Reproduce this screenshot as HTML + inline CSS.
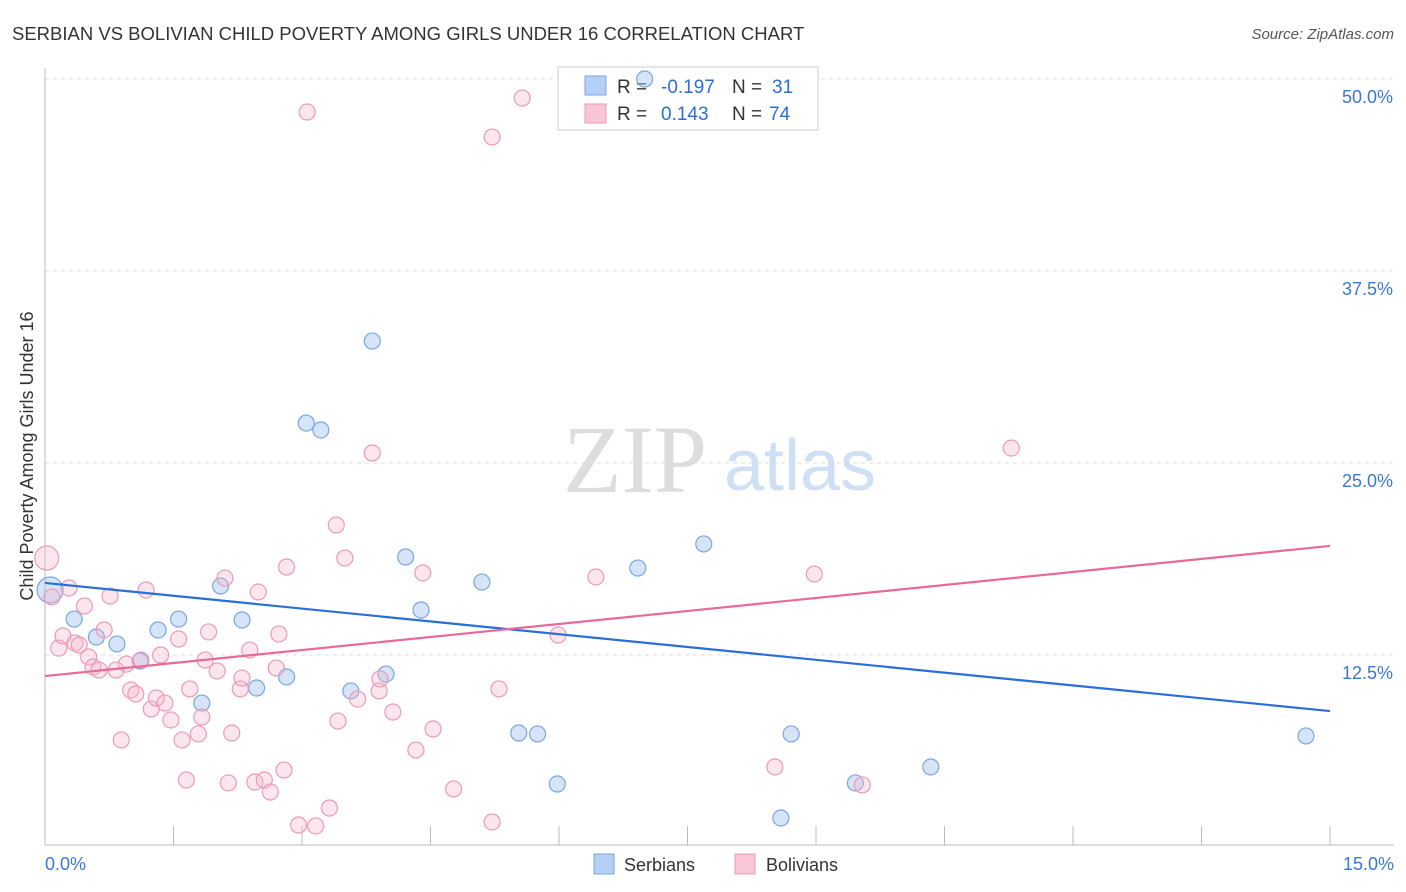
<!DOCTYPE html>
<html><head><meta charset="utf-8"><style>
body{margin:0;background:#fff;font-family:"Liberation Sans",sans-serif;}
svg{display:block}
</style></head><body>
<svg id="c" width="1406" height="892">
<text x="12" y="40" font-size="18.5" fill="#333">SERBIAN VS BOLIVIAN CHILD POVERTY AMONG GIRLS UNDER 16 CORRELATION CHART</text>
<text x="1394" y="39" font-size="15" fill="#555" text-anchor="end" font-style="italic">Source: ZipAtlas.com</text>
<text x="635" y="492" font-size="96" fill="#ddd" font-family="Liberation Serif,serif" text-anchor="middle">ZIP</text>
<text x="800" y="490" font-size="72" fill="#cfe0f5" text-anchor="middle">atlas</text>
<text transform="translate(33,456) rotate(-90)" font-size="18" fill="#333" text-anchor="middle">Child Poverty Among Girls Under 16</text>
<g id="grid"></g>
<g>
<rect x="558" y="67" width="260" height="63" fill="#fff" stroke="#ccc"/>
<rect x="585" y="76" width="21" height="19" fill="#b5d0f5" stroke="#7aa6e0"/>
<rect x="585" y="104" width="21" height="19" fill="#f8c6d6" stroke="#ec9ab5"/>
<text x="617" y="93" font-size="19" fill="#333">R =</text>
<text x="661" y="93" font-size="19" fill="#2a6fd6">-0.197</text>
<text x="732" y="93" font-size="19" fill="#333">N =</text>
<text x="772" y="93" font-size="19" fill="#2a6fd6">31</text>
<text x="617" y="120" font-size="19" fill="#333">R =</text>
<text x="661" y="120" font-size="19" fill="#2a6fd6">0.143</text>
<text x="732" y="120" font-size="19" fill="#333">N =</text>
<text x="769" y="120" font-size="19" fill="#2a6fd6">74</text>
</g>
<g id="marks"></g>
<g>
<rect x="594" y="854" width="20" height="20" fill="#b5d0f5" stroke="#7aa6e0"/>
<text x="624" y="871" font-size="18" fill="#333">Serbians</text>
<rect x="735" y="854" width="20" height="20" fill="#f8c6d6" stroke="#ec9ab5"/>
<text x="766" y="871" font-size="18" fill="#333">Bolivians</text>
</g>
</svg>
<script>
const yTicks=[12.5,25,37.5,50];
const xTickLabels=["0.0%","15.0%"];
const serbX=[.06,.34,.60,.84,1.11,1.32,1.56,1.83,2.05,2.30,2.47,2.82,3.05,3.22,3.57,3.82,3.98,4.21,4.39,5.10,5.53,5.75,5.98,6.92,7.00,7.69,8.59,8.71,9.46,10.34,14.72];
const serbY=[16.73,14.84,13.67,13.22,12.11,14.13,14.84,9.37,16.99,14.78,10.35,11.07,27.60,27.15,10.16,32.94,11.26,18.88,15.43,17.25,7.42,7.36,4.10,18.16,50.0,19.73,1.89,7.36,4.17,5.21,7.23];
const bolX=[.02,.08,.16,.21,.28,.35,.40,.46,.51,.56,.63,.69,.76,.83,.89,.95,1.00,1.06,1.12,1.18,1.24,1.30,1.35,1.40,1.47,1.56,1.60,1.65,1.69,1.79,1.83,1.87,1.91,2.01,2.10,2.14,2.18,2.28,2.30,2.39,2.45,2.49,2.56,2.63,2.70,2.73,2.79,2.82,2.96,3.06,3.16,3.32,3.40,3.42,3.50,3.65,3.82,3.90,3.91,4.06,4.33,4.41,4.53,4.77,5.22,5.22,5.30,5.57,5.99,6.43,8.52,8.98,9.54,11.28];
const bolY=[18.81,16.28,12.95,13.74,16.86,13.28,13.15,15.69,12.37,11.72,11.52,14.13,16.34,11.52,6.97,11.91,10.22,9.96,12.17,16.73,8.98,9.70,12.50,9.37,8.27,13.54,6.97,4.36,10.29,7.36,8.46,12.17,14.00,11.46,17.51,4.17,7.42,10.29,11.00,12.82,4.23,16.60,4.36,3.58,11.65,13.87,5.01,18.23,1.43,47.85,1.37,2.54,20.96,8.20,18.81,9.63,25.65,10.16,10.94,8.79,6.31,17.84,7.68,3.78,1.63,46.22,10.29,48.76,13.80,17.58,5.21,17.77,4.04,25.97];
const serbTrend=[17.19,8.85];
const bolTrend=[11.13,19.60];
const NS="http://www.w3.org/2000/svg";
const sx=v=>45+v/15*1285, sy=v=>847-v/12.5*192;
function mk(t,a,p){const e=document.createElementNS(NS,t);for(const k in a)e.setAttribute(k,a[k]);p.appendChild(e);return e;}
const g=document.getElementById('grid'), m=document.getElementById('marks');
yTicks.forEach(v=>{
 const l=mk('line',{x1:45,x2:1394,y1:sy(v),y2:sy(v),stroke:'#ddd','stroke-dasharray':'4,4'},g);
 
 
 const t=mk('text',{x:1393,y:sy(v)+24,'font-size':18,fill:'#3a78d8','text-anchor':'end'},g);
 t.textContent=v.toFixed(1)+'%';
 
 
});
mk('line',{x1:45,x2:45,y1:68,y2:845,stroke:'#bbb'},g);
mk('line',{x1:45,x2:1394,y1:845,y2:845,stroke:'#bbb'},g);
for(let i=0;i<=10;i++){const x=sx(i*1.5);mk('line',{x1:x,x2:x,y1:826,y2:845,stroke:'#bbb'},g);}
[[0,'start',45],[1,'end',1394]].forEach(([i,a,x])=>{
 const t=mk('text',{x:x,y:870,'font-size':18,fill:'#3a78d8','text-anchor':a},g);
 t.textContent=xTickLabels[i];
 
 
});
serbX.forEach((x,i)=>{
 const c=mk('circle',{cx:sx(x),cy:sy(serbY[i]),r:i==0?13:8,fill:'rgba(163,196,240,0.45)',stroke:'#7aa6e0','stroke-width':1.2},m);
 
 
});
bolX.forEach((x,i)=>{
 const c=mk('circle',{cx:sx(x),cy:sy(bolY[i]),r:i==0?12:8,fill:'rgba(244,182,204,0.35)',stroke:'#ec9ab5','stroke-width':1.2},m);
 
 
});
const l1=mk('line',{x1:sx(0),x2:sx(15),y1:sy(serbTrend[0]),y2:sy(serbTrend[1]),stroke:'#2a6fd6','stroke-width':2.2},m);


const l2=mk('line',{x1:sx(0),x2:sx(15),y1:sy(bolTrend[0]),y2:sy(bolTrend[1]),stroke:'#e8699a','stroke-width':2.2},m);


</script>
</body></html>
